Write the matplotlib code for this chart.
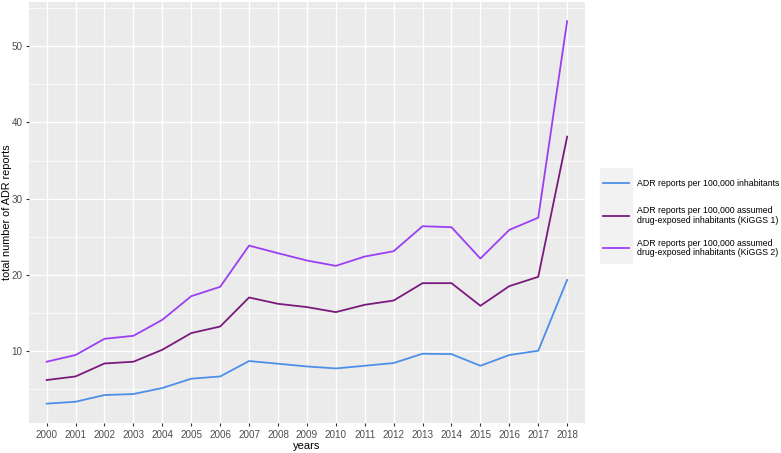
import matplotlib.pyplot as plt
from matplotlib.lines import Line2D
from matplotlib.patches import Rectangle

plt.rcParams['font.family'] = ['Liberation Sans', 'DejaVu Sans']

years = list(range(2000, 2019))

adr_inhab = [3.1, 3.35, 4.23, 4.36, 5.15, 6.37, 6.67, 8.69, 8.34, 7.98,
             7.72, 8.07, 8.43, 9.65, 9.6, 8.07, 9.48, 10.04, 19.34]
adr_kiggs1 = [6.2, 6.67, 8.37, 8.6, 10.17, 12.36, 13.22, 17.03, 16.2, 15.77,
              15.11, 16.07, 16.63, 18.91, 18.91, 15.94, 18.52, 19.74, 38.13]
adr_kiggs2 = [8.6, 9.48, 11.61, 12.0, 14.1, 17.2, 18.43, 23.84, 22.84, 21.88,
              21.18, 22.4, 23.1, 26.38, 26.25, 22.14, 25.9, 27.5, 53.29]

labels = ["ADR reports per 100,000 inhabitants",
          "ADR reports per 100,000 assumed\ndrug-exposed inhabitants (KiGGS 1)",
          "ADR reports per 100,000 assumed\ndrug-exposed inhabitants (KiGGS 2)"]
colors = ["#4d8fe8", "#7a1a7e", "#9b3ff2"]

W, H = 781, 453
fig = plt.figure(figsize=(W / 100, H / 100), dpi=100)
ax = fig.add_axes([29.3 / W, 1 - 422.7 / H, (584.5 - 29.3) / W, (422.7 - 2) / H])
ax.set_facecolor("#ebebeb")

x = list(range(len(years)))
for vals, c in zip((adr_inhab, adr_kiggs1, adr_kiggs2), colors):
    ax.plot(x, vals, color=c, lw=1.3, zorder=3)

ax.set_xlim(-0.6, len(years) - 1 + 0.6)
ax.set_ylim(0.6, 55.8)
ax.set_xticks(x)
ax.set_xticklabels([str(y) for y in years])
ax.set_yticks([10, 20, 30, 40, 50])
ax.set_yticks([5, 15, 25, 35, 45, 55], minor=True)
ax.grid(True, which="major", color="white", lw=1.0, zorder=1)
ax.grid(True, which="minor", color="white", lw=0.5, zorder=1)
ax.tick_params(which="minor", length=0)
ax.tick_params(which="major", length=2.5, color="#333333", labelsize=7.1,
               labelcolor="#4d4d4d", pad=2.5)
for s in ax.spines.values():
    s.set_visible(False)
ax.set_xlabel("years", fontsize=8, labelpad=1)
ax.set_ylabel("total number of ADR reports", fontsize=7.8)
ax.yaxis.set_label_coords(-0.031, 0.5)

# legend drawn by hand to match the ggplot guide layout
fig.patches.append(Rectangle((600 / W, 1 - 263 / H), 32 / W, 95 / H,
                             transform=fig.transFigure, color="#f2f2f2", zorder=0))
key_y = [183, 215.5, 248]
for c, lab, ky in zip(colors, labels, key_y):
    yf = 1 - ky / H
    fig.add_artist(Line2D([603 / W, 629 / W], [yf, yf], color=c, lw=1.3,
                          transform=fig.transFigure))
    fig.text(637 / W, yf, lab, fontsize=6.3, va="center", ha="left",
             linespacing=1.1, color="black")

plt.savefig("out.png", dpi=100)
